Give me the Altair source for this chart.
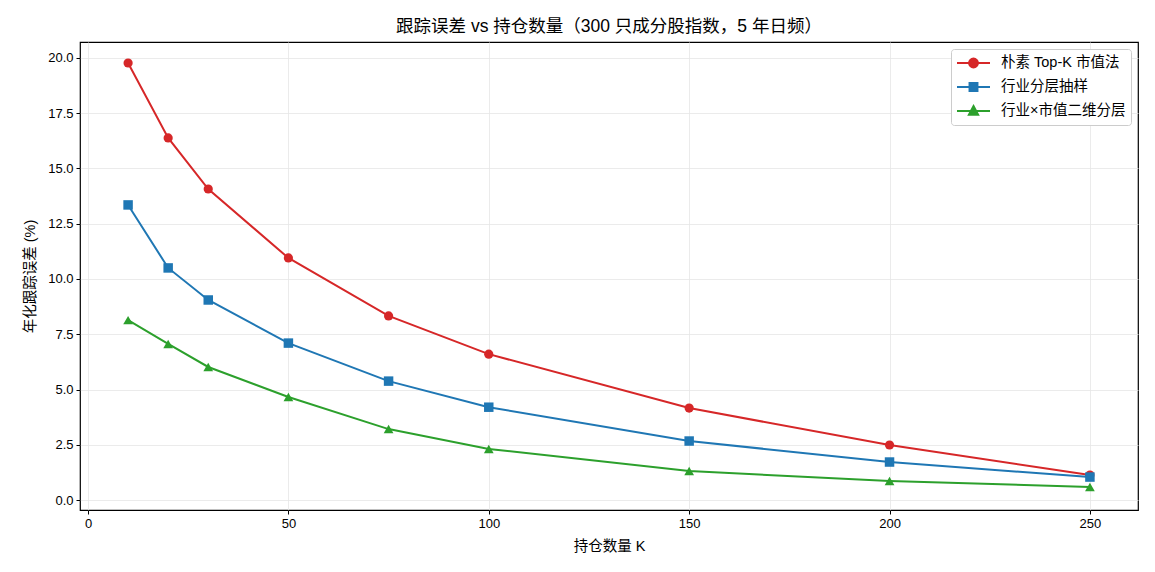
import altair as alt
import pandas as pd

FONT = "Liberation Sans, Noto Sans CJK SC"

k_values = [10, 20, 30, 50, 75, 100, 150, 200, 250]
series_names = ["朴素 Top-K 市值法", "行业分层抽样", "行业×市值二维分层"]
naive_te = [19.77, 16.38, 14.07, 10.95, 8.33, 6.60, 4.16, 2.49, 1.13]
sector_te = [13.35, 10.50, 9.05, 7.10, 5.38, 4.20, 2.67, 1.72, 1.04]
two_dim_te = [8.14, 7.06, 6.02, 4.66, 3.21, 2.31, 1.31, 0.86, 0.59]
colors = ["#d62728", "#1f77b4", "#2ca02c"]

rows = []
for name, vals in zip(series_names, [naive_te, sector_te, two_dim_te]):
    for k, v in zip(k_values, vals):
        rows.append({"K": k, "TE": v, "method": name})
df = pd.DataFrame(rows)

color_scale = alt.Scale(domain=series_names, range=colors)
x_enc = alt.X("K:Q", title="持仓数量 K", scale=alt.Scale(domain=[-2, 262], nice=False, zero=False),
              axis=alt.Axis(values=[0, 50, 100, 150, 200, 250]))
y_enc = alt.Y("TE:Q", title="年化跟踪误差 (%)", scale=alt.Scale(domain=[-0.45, 20.72], nice=False, zero=False),
              axis=alt.Axis(values=[0, 2.5, 5, 7.5, 10, 12.5, 15, 17.5, 20], format=".1f"))

base = alt.Chart(df)

lines = base.mark_line(strokeWidth=2).encode(
    x=x_enc, y=y_enc,
    color=alt.Color("method:N", scale=color_scale, legend=None),
    detail="method:N",
)

points = base.mark_point(filled=True, opacity=1).encode(
    x=x_enc, y=y_enc,
    color=alt.Color("method:N", scale=color_scale, legend=None),
    shape=alt.Shape("method:N", scale=alt.Scale(domain=series_names, range=["circle", "square", "triangle-up"]), legend=None),
    size=alt.Size("method:N", scale=alt.Scale(domain=series_names, range=[85, 95, 110]), legend=None),
)

# legend symbols: a short line with the marker in the middle
legend_paths = [
    "M-1,0H1M-0.27,0A0.27,0.27,0,1,0,0.27,0A0.27,0.27,0,1,0,-0.27,0Z",
    "M-1,0H1M-0.24,-0.24H0.24V0.24H-0.24Z",
    "M-1,0H1M0,-0.3L0.28,0.22H-0.28Z",
]


def make_legend():
    return alt.Legend(
        title=None, orient="top-right", offset=7,
        fillColor="white", cornerRadius=3,
        labelFont=FONT, labelFontSize=14.5, labelColor="black", labelOffset=10,
        symbolSize=1089, symbolStrokeWidth=2, symbolOpacity=1, clipHeight=18,
    )


legend_layer = base.transform_filter("false").mark_point(filled=True, opacity=1).encode(
    x=x_enc, y=y_enc,
    color=alt.Color("method:N", scale=color_scale, legend=make_legend()),
    stroke=alt.Stroke("method:N", scale=alt.Scale(domain=series_names, range=colors), legend=make_legend()),
    shape=alt.Shape("method:N", scale=alt.Scale(domain=series_names, range=legend_paths), legend=make_legend()),
)

chart = alt.layer(lines, points, legend_layer).resolve_scale(
    color="independent", stroke="independent", shape="independent", size="independent"
).properties(
    width=1058, height=468,
    autosize=alt.AutoSizeParams(type="none"),
    padding={"left": 72, "top": 34, "right": 9, "bottom": 54},
    title=alt.Title("跟踪误差 vs 持仓数量（300 只成分股指数，5 年日频）", font=FONT, fontSize=17.5,
                    fontWeight="normal", color="black", offset=7),
).configure_view(
    stroke="black", strokeWidth=1.2
).configure_axis(
    labelFont=FONT, titleFont=FONT, labelFontSize=13, titleFontSize=14.5, titleFontWeight="normal",
    labelColor="black", titleColor="black", domain=False, tickColor="black", tickSize=4,
    labelPadding=3, gridColor="#e6e6e6", gridWidth=0.8,
).configure_axisX(titlePadding=9).configure_axisY(titlePadding=10).configure_legend(
    strokeColor="#cccccc", padding=5, rowPadding=6
)

chart.save("out.html", embed_options={"renderer": "svg", "actions": False})
